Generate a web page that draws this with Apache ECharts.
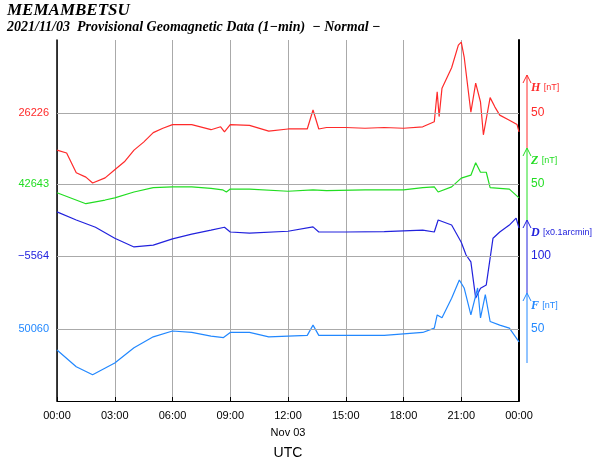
<!DOCTYPE html>
<html>
<head>
<meta charset="utf-8">
<script src="https://cdn.jsdelivr.net/npm/echarts@6/dist/echarts.min.js"></script>
<style>
  html, body { margin: 0; padding: 0; background: #fff; }
  #chart { width: 600px; height: 458px; }
</style>
</head>
<body>
<div id="chart"></div>
<script>
// hour of day, deviation
const hData = [[0,-1],[0.5,-5],[1,-32],[1.5,-38],[1.85,-46],[2.5,-39],[3,-28],[3.5,-17],[4,-1],[4.5,10],[5,23],[5.5,29],[6,34],[7,34],[8,27],[8.5,31],[8.7,24],[9,34],[10,33],[11,25],[12,28],[13,28],[13.3,54],[13.6,28],[14,30],[15,30],[16,29],[17,30],[18,29],[19,31],[19.6,38],[19.75,79],[19.85,45],[20,84],[20.5,112],[20.85,143],[21,147],[21.15,127],[21.5,51],[21.75,91],[22,65],[22.15,20],[22.5,71],[22.75,58],[23,47],[23.5,40],[23.9,34],[24,24]];
const zData = [[0,38],[1.5,23],[2.5,28],[3,31],[4,39],[5,45],[6,46],[7,46],[8,44],[8.6,42],[8.8,39],[9,43],[10,43],[12,40],[13.3,42],[14,41],[16,42],[18,42],[19,45],[19.6,46],[19.8,39],[20.5,46],[21,58],[21.5,62],[21.75,79],[22,66],[22.3,66],[22.5,45],[23,44],[23.5,43],[24,31]];
const dData = [[0,221],[1,199],[2,179],[3,149],[4,125],[5,130],[6,147],[7,160],[8,171],[8.7,179],[9,166],[10,163],[12,168],[13.3,180],[13.6,166],[15,166],[17,167],[19,171],[19.6,166],[19.8,199],[20.5,185],[21,138],[21.25,103],[21.5,84],[21.75,-15],[22,12],[22.3,21],[22.65,149],[23,166],[23.5,185],[23.85,204],[24,177]];
const fData = [[0,21],[1,-2],[1.85,-13],[3,3],[4,24],[5,39],[6,47],[7,45],[8,40],[8.65,38],[9,45],[10,45],[11,39],[12,40],[13,41],[13.3,55],[13.6,41],[15,41],[17,41],[19,45],[19.6,51],[19.75,69],[20,65],[20.5,92],[20.9,117],[21.15,106],[21.5,69],[21.85,106],[22,65],[22.25,97],[22.5,60],[23,55],[23.5,51],[24,32]];

const baseLabels = ['26226', '42643', '\u22125564', '50060'];
const refValues = [50, 50, 100, 50];
const names = ['H', 'Z', 'D', 'F'];
const units = ['[nT]', '[nT]', '[x0.1arcmin]', '[nT]'];
const colors = ['#ff2a2a', '#22dd22', '#2222dd', '#2288ff'];
const yRanges = [[-345, 150], [-247, 247], [-297, 692], [-49, 446]];

const chart = echarts.init(document.getElementById('chart'));

const series = [hData, zData, dData, fData].map((d, i) => ({
  name: names[i],
  type: 'line',
  yAxisIndex: i,
  data: d,
  showSymbol: false,
  lineStyle: { color: colors[i], width: 1.2 },
  markLine: {
    silent: true,
    symbol: 'none',
    lineStyle: { color: '#aaa', type: 'solid', width: 1 },
    data: [
      { yAxis: refValues[i], label: { position: 'start', distance: 8, formatter: baseLabels[i], color: colors[i], fontSize: 11 } },
      { yAxis: refValues[i], label: { position: 'end', distance: 12, formatter: String(refValues[i]), color: colors[i], fontSize: 12 } }
    ]
  }
}));

// colored arrows on the right, one per component
const arrowTop = [75, 148, 220, 293];
const arrowBottom = [148, 220, 293, 363];
const graphic = [];
names.forEach((n, i) => {
  graphic.push({ type: 'line', shape: { x1: 527, y1: arrowTop[i], x2: 527, y2: arrowBottom[i] }, style: { stroke: colors[i], lineWidth: 1 } });
  graphic.push({ type: 'polyline', shape: { points: [[523, arrowTop[i] + 8], [527, arrowTop[i]], [531, arrowTop[i] + 8]] }, style: { stroke: colors[i], fill: null, lineWidth: 1 } });
  graphic.push({
    type: 'text', left: 531, top: arrowTop[i] + 7,
    style: {
      text: '{a|' + n + '} {b|' + units[i] + '}',
      rich: {
        a: { fontFamily: 'Liberation Serif', fontStyle: 'italic', fontWeight: 'bold', fontSize: 12, fill: colors[i] },
        b: { fontFamily: 'Liberation Sans', fontSize: 9, fill: colors[i] }
      }
    }
  });
});

chart.setOption({
  animation: false,
  textStyle: { fontFamily: 'Liberation Sans' },
  title: {
    text: 'MEMAMBETSU',
    subtext: '2021/11/03  Provisional Geomagnetic Data (1\u2212min)  \u2212 Normal \u2212',
    left: 2, top: -3, itemGap: 1,
    textStyle: { fontFamily: 'Liberation Serif', fontStyle: 'italic', fontWeight: 'bold', fontSize: 17, color: '#000' },
    subtextStyle: { fontFamily: 'Liberation Serif', fontStyle: 'italic', fontWeight: 'bold', fontSize: 14, color: '#000' }
  },
  grid: { left: 57, right: 81, top: 40, bottom: 57, outerBoundsMode: 'none' },
  xAxis: {
    type: 'value', min: 0, max: 24, interval: 3,
    axisLine: { onZero: false, lineStyle: { color: '#000', width: 1 } },
    axisTick: { show: true, inside: true, length: 4, lineStyle: { color: '#000' } },
    axisLabel: {
      color: '#000', fontSize: 11, margin: 6, lineHeight: 17,
      formatter: v => {
        const s = (v < 10 ? '0' : '') + v + ':00';
        return v === 12 ? s + '\nNov 03' : (v === 24 ? '00:00' : s);
      }
    },
    splitLine: { show: true, lineStyle: { color: '#aaa', width: 1 } },
    name: 'UTC', nameLocation: 'middle', nameGap: 41,
    nameTextStyle: { color: '#000', fontSize: 14 }
  },
  yAxis: yRanges.map((r, i) => ({
    type: 'value', min: r[0], max: r[1],
    position: i === 1 ? 'right' : 'left',
    axisLine: { show: i < 2, onZero: false, lineStyle: { color: '#000', width: i === 1 ? 2 : 1.5 } },
    axisTick: { show: false },
    axisLabel: { show: false },
    splitLine: { show: false }
  })),
  graphic: graphic,
  series: series
});
</script>
</body>
</html>
